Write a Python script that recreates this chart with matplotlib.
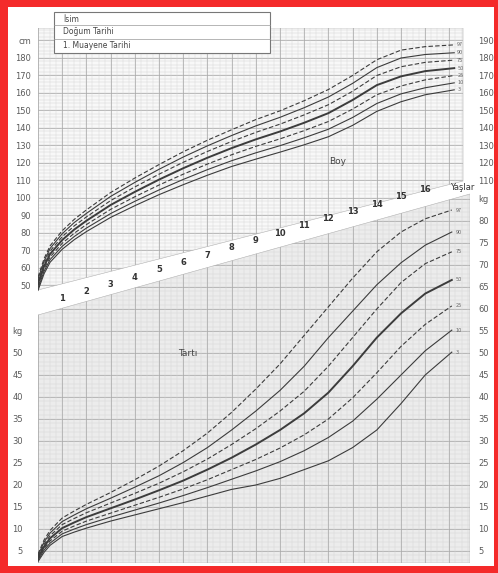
import numpy as np
import matplotlib
matplotlib.use('Agg')
import matplotlib.pyplot as plt
from matplotlib.patches import Polygon, Rectangle

# Percentile curves (boys, age in years)
pct = ['3', '10', '25', '50', '75', '90', '97']

age_h = [0, 0.25, 0.5, 1, 1.5, 2, 3, 4, 5, 6, 7, 8, 9, 10, 11, 12, 13, 14, 15, 16, 17.2]
h3 = [47.2, 56.7, 63.3, 70.7, 76.2, 80.8, 88.9, 95.6, 101.9, 107.6, 113.0, 118.0, 122.2, 126.2, 130.4, 135.0, 141.5, 149.5, 155.0, 159.0, 161.8]
h10 = [48.4, 58.1, 64.8, 72.4, 78.0, 82.8, 91.1, 98.1, 104.6, 110.6, 116.2, 121.3, 125.8, 129.9, 134.4, 139.3, 146.0, 154.0, 159.5, 163.0, 165.8]
h25 = [49.7, 59.5, 66.3, 74.1, 79.9, 84.8, 93.5, 100.7, 107.4, 113.6, 119.4, 124.7, 129.5, 133.8, 138.5, 143.7, 150.8, 159.0, 164.0, 167.5, 170.0]
h50 = [51.0, 61.0, 68.0, 76.0, 82.0, 87.0, 96.0, 103.5, 110.5, 117.0, 123.0, 128.5, 133.5, 138.0, 143.0, 148.5, 156.0, 164.5, 169.5, 172.5, 174.2]
h75 = [52.3, 62.5, 69.7, 77.9, 84.1, 89.2, 98.5, 106.3, 113.6, 120.4, 126.6, 132.3, 137.5, 142.2, 147.5, 153.3, 161.0, 170.0, 175.0, 177.5, 178.8]
h90 = [53.6, 63.9, 71.2, 79.6, 86.0, 91.2, 100.9, 108.9, 116.4, 123.4, 129.8, 135.7, 141.2, 146.1, 151.6, 157.7, 165.5, 174.5, 180.0, 182.0, 183.0]
h97 = [54.8, 65.3, 72.7, 81.3, 87.8, 93.2, 103.1, 111.4, 119.1, 126.4, 133.0, 139.0, 144.8, 149.8, 155.6, 162.0, 170.0, 179.0, 184.5, 186.5, 187.5]

age_w = [0, 0.25, 0.5, 1, 1.5, 2, 3, 4, 5, 6, 7, 8, 9, 10, 11, 12, 13, 14, 15, 16, 17.1]
w3 = [2.6, 4.7, 6.3, 8.3, 9.3, 10.2, 11.8, 13.2, 14.6, 16.0, 17.5, 19.0, 20.0, 21.5, 23.5, 25.5, 28.5, 32.5, 38.5, 45.0, 50.2]
w10 = [2.9, 5.2, 6.8, 8.9, 10.0, 11.0, 12.7, 14.3, 15.9, 17.6, 19.4, 21.3, 23.2, 25.3, 27.8, 30.8, 34.5, 39.5, 45.0, 50.5, 55.2]
w25 = [3.1, 5.6, 7.3, 9.5, 10.7, 11.8, 13.6, 15.4, 17.2, 19.1, 21.2, 23.5, 25.8, 28.4, 31.4, 35.0, 39.8, 45.5, 51.5, 56.5, 60.7]
w50 = [3.4, 6.0, 7.9, 10.2, 11.5, 12.7, 14.7, 16.7, 18.8, 21.0, 23.5, 26.2, 29.2, 32.5, 36.3, 41.0, 47.0, 53.5, 59.0, 63.5, 66.6]
w75 = [3.7, 6.5, 8.5, 11.0, 12.4, 13.7, 15.9, 18.1, 20.4, 23.0, 25.9, 29.2, 32.8, 36.8, 41.3, 47.0, 53.5, 60.0, 66.0, 70.3, 73.0]
w90 = [4.0, 7.0, 9.1, 11.7, 13.2, 14.6, 17.0, 19.5, 22.1, 25.1, 28.5, 32.5, 36.8, 41.5, 47.0, 53.5, 59.5, 65.5, 70.5, 74.5, 77.5]
w97 = [4.3, 7.5, 9.7, 12.5, 14.1, 15.6, 18.3, 21.2, 24.3, 27.8, 31.8, 36.5, 41.8, 47.5, 54.0, 60.5, 67.0, 73.0, 77.5, 80.5, 82.5]

h_ticks_left = [50, 60, 70, 80, 90, 100, 110, 120, 130, 140, 150, 160, 170, 180, 190]
h_ticks_right = [110, 120, 130, 140, 150, 160, 170, 180, 190]
w_ticks_left = [5, 10, 15, 20, 25, 30, 35, 40, 45, 50, 55]
w_ticks_right = [5, 10, 15, 20, 25, 30, 35, 40, 45, 50, 55, 60, 65, 70, 75, 80, 85]
age_labels = list(range(1, 17))
form_rows = ['İsim', 'Doğum Tarihi', '1. Muayene Tarihi']

RED = '#f42a2a'
INK = '#3c3c3c'
TXT = '#5a5a5a'
W, H = 498, 573
PXY = 24.2  # pixels per year

# pixel -> data helpers for the two stacked scales
def h_of(y): return 180 - (y - 58) / 1.75
def w_of(y): return 50 - (y - 353) / 4.4
def fx(x): return x / W
def fy(y): return 1 - y / H

fig = plt.figure(figsize=(W / 100, H / 100), dpi=100, facecolor=RED)
fig.patches.append(Rectangle((fx(8), fy(566)), (494 - 8) / W, (566 - 7) / H,
                             transform=fig.transFigure, facecolor='white', edgecolor='none', zorder=-5))

pos = [fx(38), fy(563), 432 / W, 535 / H]
axW = fig.add_axes(pos)
axH = fig.add_axes(pos)
xmax = 432 / PXY
x_h = (463 - 38) / PXY
for ax in (axH, axW):
    ax.set_facecolor('none')
    ax.set_xlim(0, xmax)
    ax.set_xticks([])
    for s in ax.spines.values():
        s.set_visible(False)
axH.set_ylim(h_of(563), h_of(28))
axW.set_ylim(w_of(563), w_of(28))

# grid areas
polyH = Polygon([(0, h_of(28)), (x_h, h_of(28)), (x_h, h_of(181)), (0, h_of(290))],
                closed=True, transform=axH.transData, facecolor='#f8f8f8', edgecolor='#b0b0b0', lw=0.4, zorder=0)
axH.add_patch(polyH)
polyW = Polygon([(0, w_of(315)), (xmax, w_of(194)), (xmax, w_of(563)), (0, w_of(563))],
                closed=True, transform=axW.transData, facecolor='#ececec', edgecolor='#b0b0b0', lw=0.4, zorder=0)
axW.add_patch(polyW)

def grid(ax, poly, y0, y1, ystep_minor, ystep_major, x1):
    lines = [
        ax.hlines(np.arange(y0, y1, ystep_minor), 0, x1, color='#d0d0d0', lw=0.3, zorder=1),
        ax.hlines(np.arange(y0 - y0 % ystep_major, y1, ystep_major), 0, x1, color='#a6a6a6', lw=0.5, zorder=1),
        ax.vlines(np.arange(0, x1, 0.25), y0, y1, color='#d3d3d3', lw=0.3, zorder=1),
        ax.vlines(np.arange(0, x1, 1), y0, y1, color='#a6a6a6', lw=0.5, zorder=1),
    ]
    for lc in lines:
        lc.set_clip_path(poly)

grid(axH, polyH, 40, 198, 2, 10, x_h)
grid(axW, polyW, 0, 90, 1, 5, xmax)

styles = {'3': ('-', 0.8), '10': ('-', 0.8), '25': ((0, (4, 2)), 0.8), '50': ('-', 1.4),
          '75': ((0, (4, 2)), 0.8), '90': ('-', 0.8), '97': ((0, (4, 2)), 0.8)}
for p, hs, ws in zip(pct, [h3, h10, h25, h50, h75, h90, h97], [w3, w10, w25, w50, w75, w90, w97]):
    ls, lw = styles[p]
    axH.plot(age_h, hs, color=INK, ls=ls, lw=lw, zorder=3)
    axW.plot(age_w, ws, color=INK, ls=ls, lw=lw, zorder=3)
    axH.text(age_h[-1] + 0.12, hs[-1], p, fontsize=3.5, color='#666666', va='center', zorder=4)
    axW.text(age_w[-1] + 0.15, ws[-1], p, fontsize=3.5, color='#666666', va='center', zorder=4)

# axis labels on both sides
axH.set_yticks(h_ticks_left, [str(v) for v in h_ticks_left[:-1]] + ['cm'])
axH.tick_params(axis='y', length=0, pad=5, labelsize=6, labelcolor=TXT)
axW.set_yticks(w_ticks_left, [str(v) for v in w_ticks_left[:-1]] + ['kg'])
axW.tick_params(axis='y', length=0, pad=11, labelsize=6, labelcolor=TXT)

secH = axH.secondary_yaxis('right')
secH.set_yticks(h_ticks_right, [str(v) for v in h_ticks_right])
secH.tick_params(length=0, pad=6, labelsize=6, labelcolor=TXT)
secW = axW.secondary_yaxis('right')
secW.set_yticks(w_ticks_right, [str(v) for v in w_ticks_right[:-1]] + ['kg'])
secW.tick_params(length=0, pad=6, labelsize=6, labelcolor=TXT)
for sec in (secH, secW):
    for s in sec.spines.values():
        s.set_visible(False)

# ages along the white band
for n in age_labels:
    axH.text(n, h_of(299 - 7.3 * (n - 1)), str(n), fontsize=6, color='#333333',
             ha='center', va='center', fontweight='bold', zorder=5)
axH.text((462 - 38) / PXY, h_of(188), 'Yaşlar', fontsize=6, color='#333333',
         ha='center', va='center', zorder=5)

axH.text((338 - 38) / PXY, h_of(162), 'Boy', fontsize=6.5, color='#444444', ha='center', va='center', zorder=5)
axW.text((188 - 38) / PXY, w_of(354), 'Tartı', fontsize=6.5, color='#444444', ha='center', va='center', zorder=5)

# form box at top left
fig.patches.append(Rectangle((fx(54), fy(53)), (270 - 54) / W, (53 - 12) / H, transform=fig.transFigure,
                             facecolor='white', edgecolor='#777777', lw=0.8, zorder=10))
for y in (25, 39):
    fig.add_artist(plt.Line2D([fx(54), fx(270)], [fy(y), fy(y)], transform=fig.transFigure,
                              color='#999999', lw=0.5, zorder=11))
for y, t in zip((19, 32, 46), form_rows):
    fig.text(fx(63), fy(y), t, fontsize=5.5, color='#444444', va='center', zorder=12)

fig.savefig('out.png', dpi=100, facecolor=RED)
